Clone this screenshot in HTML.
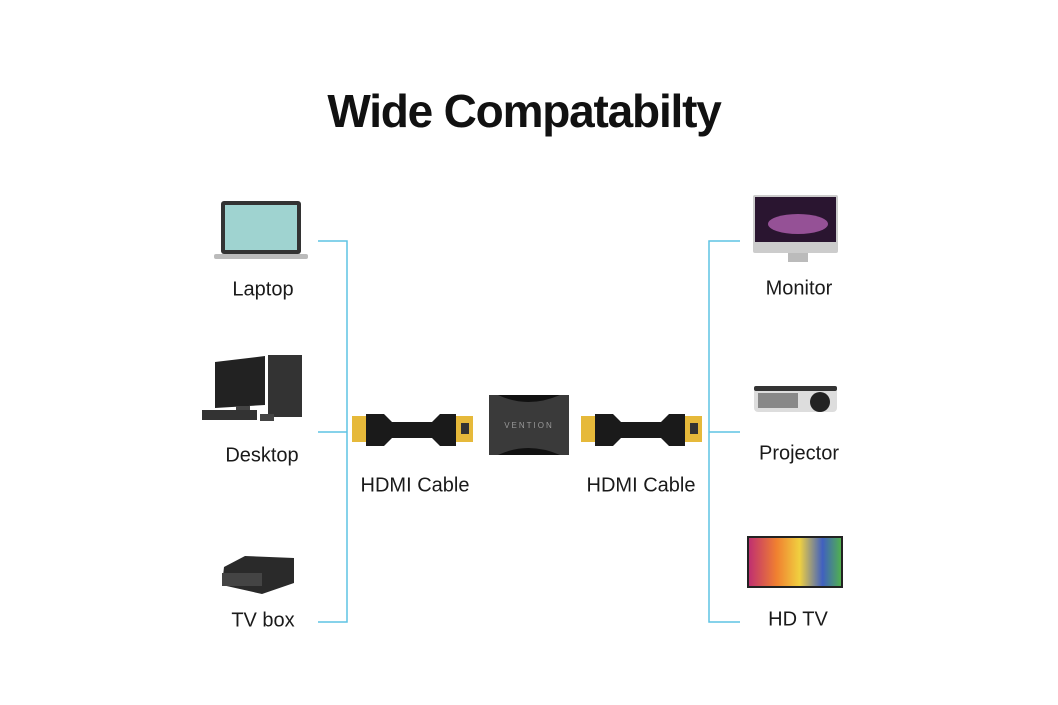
<!DOCTYPE html>
<html><head><meta charset="utf-8"><style>
html,body{margin:0;padding:0;background:#fff}
body{width:1058px;height:705px;position:relative;overflow:hidden;font-family:"Liberation Sans",sans-serif}
.t{position:absolute;font-size:20px;color:#1a1a1a;transform:translate(-50%,-50%);white-space:nowrap}
h1{position:absolute;left:0;width:1048px;top:84px;margin:0;text-align:center;font-size:46px;font-weight:bold;color:#111;letter-spacing:-1.2px}
svg{position:absolute;left:0;top:0}
</style></head><body>
<h1>Wide Compatabilty</h1>
<svg width="1058" height="705">
<g stroke="#5fc3e4" stroke-width="1.5" fill="none">
<path d="M318 241H347V622H318M318 432H347"/>
<path d="M740 241H709V622H740M740 432H709"/>
</g>
<rect x="221" y="201" width="80" height="53" rx="3" fill="#333"/>
<rect x="225" y="205" width="72" height="45" fill="#9fd3d0"/>
<rect x="214" y="254" width="94" height="5" rx="2" fill="#bbb"/>
<polygon points="215,362 265,356 265,405 215,408" fill="#222"/>
<rect x="236" y="406" width="14" height="6" fill="#444"/>
<rect x="202" y="410" width="55" height="10" fill="#333"/>
<rect x="268" y="355" width="34" height="62" fill="#333"/>
<rect x="260" y="414" width="14" height="7" fill="#444"/>
<polygon points="224,567 245,556 294,558 294,583 262,594 222,585" fill="#2a2a2a"/>
<rect x="222" y="573" width="40" height="13" fill="#444"/>
<g id="cab">
<rect x="352" y="416" width="16" height="26" fill="#e6b93a"/>
<path d="M366 414h18l8 8h40l8-8h16v32h-16l-8-8h-40l-8 8h-18z" fill="#1a1a1a"/>
<rect x="456" y="416" width="17" height="26" fill="#e6b93a"/>
<rect x="461" y="423" width="8" height="11" fill="#333"/>
</g>
<use href="#cab" x="229"/>
<path d="M489 395h80v60h-80z" fill="#3a3a3a"/>
<path d="M498 395q30 14 62 0zM498 455q30-14 62 0z" fill="#111"/>
<text x="529" y="428" font-size="8" fill="#999" text-anchor="middle" font-family="Liberation Sans" letter-spacing="2">VENTION</text>
<rect x="753" y="195" width="85" height="58" rx="2" fill="#ccc"/>
<rect x="755" y="197" width="81" height="45" fill="#2a1530"/>
<ellipse cx="798" cy="224" rx="30" ry="10" fill="#b060b0" opacity=".8"/>
<rect x="788" y="253" width="20" height="9" fill="#bbb"/>
<rect x="754" y="388" width="83" height="24" rx="4" fill="#ddd"/>
<rect x="758" y="393" width="40" height="15" fill="#888"/>
<circle cx="820" cy="402" r="10" fill="#222"/>
<rect x="754" y="386" width="83" height="5" rx="2" fill="#333"/>
<rect x="747" y="536" width="96" height="52" fill="#222"/>
<defs><linearGradient id="g" x1="0" x2="1"><stop offset="0" stop-color="#c03070"/><stop offset=".3" stop-color="#f08030"/><stop offset=".55" stop-color="#f0d040"/><stop offset=".8" stop-color="#4060c0"/><stop offset="1" stop-color="#50b050"/></linearGradient></defs>
<rect x="749" y="538" width="92" height="48" fill="url(#g)"/>
</svg>
<div class="t" style="left:263px;top:290px">Laptop</div>
<div class="t" style="left:262px;top:456px">Desktop</div>
<div class="t" style="left:263px;top:621px">TV box</div>
<div class="t" style="left:415px;top:486px">HDMI Cable</div>
<div class="t" style="left:641px;top:486px">HDMI Cable</div>
<div class="t" style="left:799px;top:289px">Monitor</div>
<div class="t" style="left:799px;top:454px">Projector</div>
<div class="t" style="left:798px;top:620px">HD TV</div>
</body></html>
